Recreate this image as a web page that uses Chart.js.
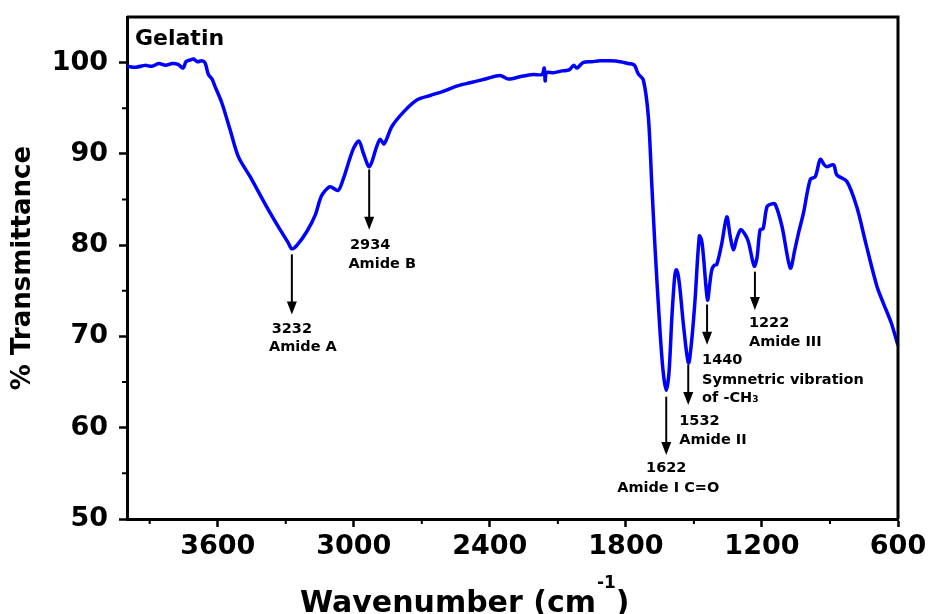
<!DOCTYPE html>
<html>
<head>
<meta charset="utf-8">
<script src="https://cdn.jsdelivr.net/npm/chart.js@4.4.0/dist/chart.umd.min.js"></script>
<style>
  body { margin: 0; background: #fff; }
  #wrap { width: 930px; height: 614px; }
</style>
</head>
<body>
<div id="wrap"><canvas id="ftirChart" width="930" height="614"></canvas></div>
<script>
// spectrum
const wavenumbers = [4000, 3960, 3920, 3890, 3860, 3830, 3800, 3775, 3752, 3740, 3720, 3707, 3690, 3670, 3656,
  3641, 3625, 3612, 3582, 3546, 3509, 3457, 3384, 3325, 3290, 3273, 3250, 3207, 3170, 3149, 3135, 3105, 3069,
  3047, 3003, 2977, 2958, 2931, 2899, 2884, 2866, 2832, 2780, 2722, 2663, 2600, 2550, 2487, 2420, 2355, 2318,
  2260, 2208, 2170, 2160, 2156, 2150, 2120, 2080, 2050, 2030, 2016, 1989, 1950, 1914, 1870, 1825, 1790, 1768,
  1759, 1746, 1723, 1701, 1686, 1671, 1649, 1635, 1622, 1610, 1597, 1585, 1578, 1570, 1561, 1545, 1524, 1510,
  1495, 1476, 1466, 1458, 1440, 1430, 1421, 1410, 1399, 1377, 1355, 1340, 1326, 1310, 1293, 1275, 1260, 1234,
  1222, 1208, 1195, 1178, 1160, 1142, 1112, 1075, 1055, 1039, 1017, 987, 965, 943, 925, 914, 884, 870, 826,
  782, 740, 693, 664, 630, 600];
const transmittance = [99.6, 99.5, 99.7, 99.6, 99.9, 99.7, 99.9, 99.8, 99.4, 100.1, 100.3, 100.4, 100.1, 100.2, 100.0,
  98.7, 98.2, 97.4, 95.6, 92.7, 89.7, 87.5, 84.2, 81.7, 80.3, 79.6, 80.0, 81.5, 83.3, 85.0, 85.7, 86.4, 86.0,
  87.2, 90.5, 91.4, 90.1, 88.6, 90.8, 91.6, 91.1, 93.0, 94.6, 95.9, 96.4, 96.9, 97.4, 97.8, 98.2, 98.6, 98.2,
  98.5, 98.7, 98.7, 99.4, 98.0, 98.9, 98.9, 99.1, 99.2, 99.7, 99.4, 100.0, 100.1, 100.2, 100.2, 100.1, 99.9, 99.8,
  99.6, 98.8, 98.1, 94.1, 86.8, 79.5, 70.4, 66.0, 64.1, 66.0, 72.2, 76.5, 77.3, 76.8, 75.1, 71.0, 67.1, 69.5,
  74.0, 81.0, 80.5, 78.8, 74.0, 75.8, 77.3, 77.8, 77.9, 80.2, 83.1, 81.0, 79.5, 80.8, 81.7, 81.2, 80.4, 77.7,
  78.6, 81.7, 81.8, 84.2, 84.5, 84.5, 82.1, 77.5, 79.5, 81.3, 83.5, 87.2, 87.5, 89.4, 88.8, 88.6, 88.8, 87.7, 87.0,
  84.2, 80.0, 75.5, 73.6, 71.5, 69.0];

const xTicks = [600, 1200, 1800, 2400, 3000, 3600];
const xMinorTicks = [900, 1500, 2100, 2700, 3300, 3900];
const yTicks = [50, 60, 70, 80, 90, 100];
const yMinorTicks = [55, 65, 75, 85, 95];

// peak arrows (wavenumber, arrow start and tip in % T) and their labels
const peakWavenumbers = [3273, 2932, 1622, 1525, 1442, 1231];
const arrowFrom = [79.0, 88.3, 63.4, 66.9, 73.5, 77.1];
const arrowTo = [72.4, 81.7, 57.0, 62.5, 69.1, 72.9];
const peakLabels = [
  ['3232', 'Amide A'],
  ['2934', 'Amide B'],
  ['1622', 'Amide I C=O'],
  ['1532', 'Amide II'],
  ['1440', 'Symnetric vibration', 'of -CH\u2083'],
  ['1222', 'Amide III']
];

// where each label sits relative to its arrow tip (px)
const labelLayout = [
  { align: 'center', lines: [[0, 15], [11, 33]] },
  { align: 'center', lines: [[1, 16], [13, 35]] },
  { align: 'center', lines: [[0, 13], [2, 33]] },
  { align: 'left', lines: [[-9, 16], [-9, 35]] },
  { align: 'left', lines: [[-5, 16], [-5, 36], [-5, 54]] },
  { align: 'left', lines: [[-6, 13], [-6, 32]] }
];

const FONT = '"DejaVu Sans", "Liberation Sans", Arial, sans-serif';

const extras = {
  id: 'extras',
  afterDraw(chart) {
    const { ctx, chartArea: a, scales: { x, y } } = chart;
    ctx.save();
    ctx.strokeStyle = '#000';
    ctx.fillStyle = '#000';

    // top + right frame
    ctx.lineWidth = 3;
    ctx.beginPath();
    ctx.moveTo(a.left, a.top);
    ctx.lineTo(a.right, a.top);
    ctx.lineTo(a.right, a.bottom);
    ctx.stroke();

    // minor ticks
    ctx.lineWidth = 2;
    ctx.beginPath();
    xMinorTicks.forEach(v => {
      const px = x.getPixelForValue(v);
      ctx.moveTo(px, a.bottom);
      ctx.lineTo(px, a.bottom + 5);
    });
    yMinorTicks.forEach(v => {
      const py = y.getPixelForValue(v);
      ctx.moveTo(a.left - 5, py);
      ctx.lineTo(a.left, py);
    });
    ctx.stroke();

    // arrows + labels
    ctx.font = 'bold 14.5px ' + FONT;
    ctx.textBaseline = 'middle';
    peakWavenumbers.forEach((w, i) => {
      const px = x.getPixelForValue(w);
      const y1 = y.getPixelForValue(arrowFrom[i]);
      const y2 = y.getPixelForValue(arrowTo[i]);
      ctx.lineWidth = 2;
      ctx.beginPath();
      ctx.moveTo(px, y1);
      ctx.lineTo(px, y2 - 10);
      ctx.stroke();
      ctx.beginPath();
      ctx.moveTo(px - 5, y2 - 13);
      ctx.lineTo(px + 5, y2 - 13);
      ctx.lineTo(px, y2);
      ctx.closePath();
      ctx.fill();

      const lay = labelLayout[i];
      ctx.textAlign = lay.align;
      peakLabels[i].forEach((txt, j) => {
        const [dx, dy] = lay.lines[j];
        ctx.fillText(txt, px + dx, y2 + dy);
      });
    });

    // sample name
    ctx.font = 'bold 22px ' + FONT;
    ctx.textAlign = 'left';
    ctx.fillText('Gelatin', a.left + 8, 39);

    // x axis title with superscript
    ctx.textBaseline = 'alphabetic';
    ctx.font = 'bold 30px ' + FONT;
    const main = 'Wavenumber (cm';
    let tx = 300;
    ctx.fillText(main, tx, 612);
    tx += ctx.measureText(main).width + 1;
    ctx.font = 'bold 17px ' + FONT;
    ctx.fillText('-1', tx, 588);
    tx += ctx.measureText('-1').width;
    ctx.font = 'bold 30px ' + FONT;
    ctx.fillText(')', tx, 612);

    ctx.restore();
  }
};

const ctx = document.getElementById('ftirChart').getContext('2d');

new Chart(ctx, {
  type: 'line',
  data: {
    datasets: [{
      label: 'Gelatin',
      data: wavenumbers.map((w, i) => ({ x: w, y: transmittance[i] })),
      borderColor: '#0000ff',
      borderWidth: 3.5,
      pointRadius: 0,
      tension: 0.3,
      fill: false
    }]
  },
  options: {
    responsive: false,
    animation: false,
    layout: { padding: { top: 17, right: 32, left: 0, bottom: 0 } },
    plugins: {
      legend: { display: false },
      tooltip: { enabled: false }
    },
    scales: {
      x: {
        type: 'linear',
        reverse: true,
        min: 600,
        max: 4000,
        afterFit: s => { s.height = 95; s.paddingLeft = 0; s.paddingRight = 0; },
        afterBuildTicks: s => { s.ticks = xTicks.map(v => ({ value: v })); },
        border: { display: true, color: '#000', width: 3 },
        grid: { display: true, drawOnChartArea: false, tickLength: 8, tickWidth: 2.5, tickColor: '#000' },
        ticks: {
          autoSkip: false,
          maxRotation: 0,
          padding: 4,
          color: '#000',
          font: { family: FONT, size: 27, weight: 'bold' },
          callback: v => String(v)
        },
        title: { display: false }
      },
      y: {
        min: 50,
        max: 105,
        afterFit: s => { s.width = 127; s.paddingTop = 0; s.paddingBottom = 0; },
        afterBuildTicks: s => { s.ticks = yTicks.map(v => ({ value: v })); },
        border: { display: true, color: '#000', width: 3 },
        grid: { display: true, drawOnChartArea: false, tickLength: 8, tickWidth: 2.5, tickColor: '#000' },
        ticks: {
          padding: 11,
          color: '#000',
          font: { family: FONT, size: 27, weight: 'bold' },
          callback: v => String(v)
        },
        title: {
          display: true,
          text: '% Transmittance',
          color: '#000',
          padding: { top: 8, bottom: 0 },
          font: { family: FONT, size: 26, weight: 'bold' }
        }
      }
    }
  },
  plugins: [extras]
});
</script>
</body>
</html>
